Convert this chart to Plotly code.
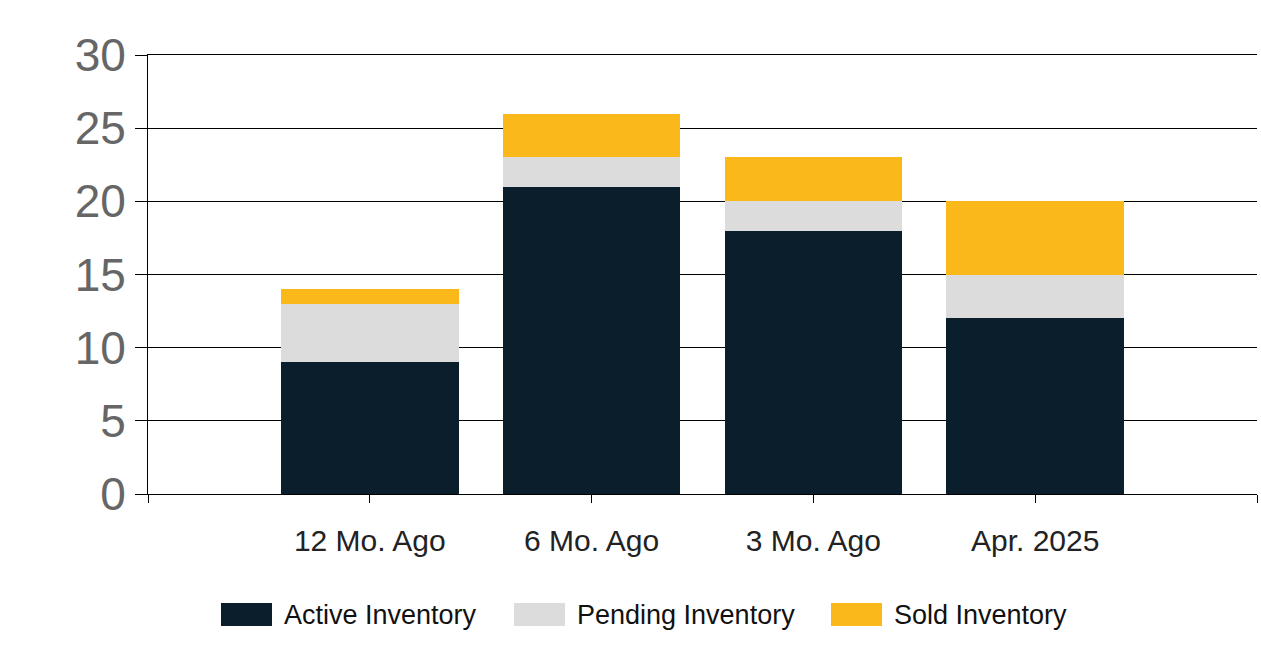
import plotly.graph_objects as go

categories = ["12 Mo. Ago", "6 Mo. Ago", "3 Mo. Ago", "Apr. 2025"]
active = [9, 21, 18, 12]
pending = [4, 2, 2, 3]
sold = [1, 3, 3, 5]
y_ticks = [0, 5, 10, 15, 20, 25, 30]
series_names = ["Active Inventory", "Pending Inventory", "Sold Inventory"]
series_colors = ["#0B1E2B", "#DCDCDC", "#FBB81B"]

positions = list(range(1, len(categories) + 1))

fig = go.Figure()
for name, vals, col in zip(series_names, [active, pending, sold], series_colors):
    fig.add_trace(go.Bar(x=positions, y=vals, name=name, showlegend=False,
                         marker=dict(color=col, line=dict(width=0)), width=0.8))

# manual legend (large swatches like the reference)
PX0, PW, PY0, PH = 148, 1109, 494, 439
def px(x):
    return (x - PX0) / PW
def py(y):
    return (PY0 - y) / PH

legend_x = [221, 514, 831]
for lx, name, col in zip(legend_x, series_names, series_colors):
    fig.add_shape(type="rect", xref="paper", yref="paper",
                  x0=px(lx), x1=px(lx + 51), y0=py(626), y1=py(603),
                  fillcolor=col, line=dict(width=0))
    fig.add_annotation(xref="paper", yref="paper", x=px(lx + 61), y=py(615),
                       xanchor="left", yanchor="middle", text=name, showarrow=False,
                       font=dict(size=27, color="#111111"))

fig.update_layout(
    barmode="stack",
    width=1261, height=663,
    margin=dict(l=148, r=4, t=55, b=169, pad=0),
    paper_bgcolor="white", plot_bgcolor="white",
    font=dict(family="Liberation Sans, Arial, sans-serif"),
    showlegend=False,
    xaxis=dict(range=[0, len(categories) + 1], tickmode="array",
               tickvals=[0] + positions + [len(categories) + 1],
               ticktext=[""] + categories + [""],
               showgrid=False, zeroline=False, showline=True, linecolor="black", linewidth=1,
               mirror=True,
               ticks="outside", ticklen=8, tickcolor="black", tickwidth=1,
               ticklabelstandoff=12,
               tickfont=dict(size=30, color="#222222")),
    yaxis=dict(range=[0, 30], tickmode="array", tickvals=y_ticks,
               showgrid=True, gridcolor="black", gridwidth=1, zeroline=False,
               showline=True, linecolor="black", linewidth=1,
               ticks="outside", ticklen=12, tickcolor="black", tickwidth=1,
               tickfont=dict(size=46, color="#666666")),
)

fig.write_html("out.html",
               config={"displayModeBar": False},
               post_script="document.body.style.margin='0';document.body.style.overflow='hidden';")
